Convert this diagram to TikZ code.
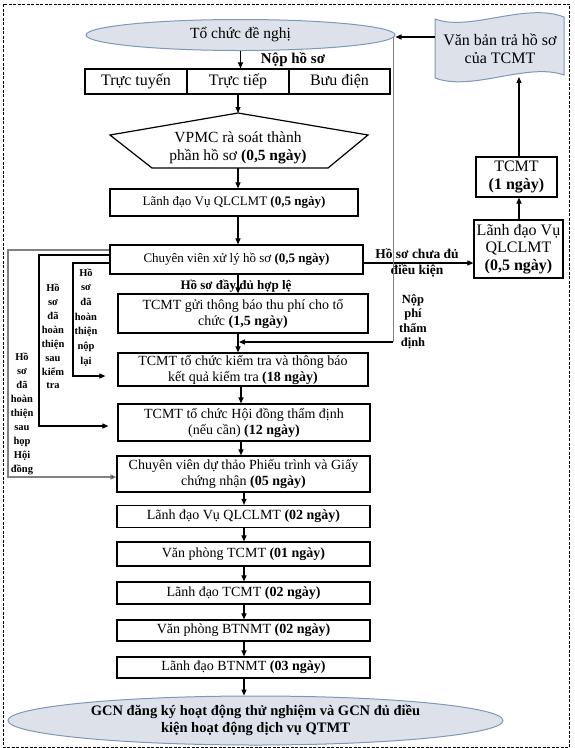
\documentclass[tikz,border=0pt]{standalone}
\usepackage{fontspec}
\setmainfont{Liberation Serif}
\usetikzlibrary{arrows.meta,shapes.geometric}
\definecolor{ellfill}{HTML}{DDE2EA}
\definecolor{elledge}{HTML}{7D98B8}
\begin{document}
\begin{tikzpicture}[x=1pt,y=-1pt,
  box/.style={draw, line width=1.2pt, inner sep=0pt, align=center},
  fa/.style={font=\fontsize{16}{17.5}\selectfont},
  fb/.style={font=\fontsize{14}{16}\selectfont},
  fc/.style={font=\fontsize{13}{15}\selectfont},
  lbl/.style={font=\bfseries\fontsize{12.5}{14.5}\selectfont, align=center, inner sep=0pt},
  lblb/.style={font=\bfseries\fontsize{13.5}{16}\selectfont, align=center, inner sep=0pt},
  loopl/.style={font=\bfseries\fontsize{10.5}{14}\selectfont, align=center, inner sep=0pt},
  arr/.style={-{Triangle[length=6pt,width=5pt]}, line width=1.1pt},
  ln/.style={line width=1.2pt},
  gln/.style={line width=0.9pt, draw=gray},
  ell/.style={ellipse, draw=elledge, fill=ellfill, line width=1pt, inner sep=0pt, align=center},
]
\useasboundingbox (0,0) rectangle (575,748);
% frame
\draw[line width=1pt, dash pattern=on 3pt off 1.5pt] (3,4) rectangle (569.5,747);

% top ellipse
\node[ell, minimum width=309pt, minimum height=31pt, font=\fontsize{15.5}{18}\selectfont] (org) at (240.5,35) {Tổ chức đề nghị};

% document shape
\draw[draw=elledge, fill=ellfill, line width=1pt]
  (435,19) .. controls (470,32) and (525,2) .. (564,17)
  -- (564,75) .. controls (527,62) and (472,92) .. (435,78) -- cycle;
\node[align=center, font=\fontsize{16}{18}\selectfont] (doc) at (500,49) {Văn bản trả hồ sơ\\của TCMT};
\coordinate (docL) at (435,37);
\coordinate (docB) at (519,77);

% Nop ho so
\node[font=\bfseries\fontsize{15}{17}\selectfont, inner sep=0pt] (nop) at (293,60) {Nộp hồ sơ};

% table
\node[box, fa, minimum width=102pt, minimum height=25pt] (t1) at (136,81.5) {Trực tuyến};
\node[box, fa, minimum width=102pt, minimum height=25pt] (t2) at (238,81.5) {Trực tiếp};
\node[box, fa, minimum width=101pt, minimum height=25pt] (t3) at (339.5,81.5) {Bưu điện};

% pentagon
\coordinate (pA) at (238,113);
\coordinate (pR) at (368,135);
\coordinate (pBR) at (328,168);
\coordinate (pBL) at (152,168);
\coordinate (pL) at (110,135);
\coordinate (pB) at (238,168);
\draw[ln] (pA) -- (pR) -- (pBR) -- (pBL) -- (pL) -- cycle;
\node[align=center, font=\fontsize{15.5}{18.5}\selectfont] (pent) at (238,148) {VPMC rà soát thành\\phần hồ sơ \textbf{(0,5 ngày)}};

% main boxes
\node[box, fc, minimum width=248pt, minimum height=27pt] (ld1) at (234,202.5) {Lãnh đạo Vụ QLCLMT \textbf{(0,5 ngày)}};
\node[box, fc, minimum width=253pt, minimum height=29pt] (cv) at (236.5,259.5) {Chuyên viên xử lý hồ sơ \textbf{(0,5 ngày)}};
\node[font=\bfseries\fontsize{13}{15}\selectfont, inner sep=0pt] (hop) at (236,286) {Hồ sơ đầy đủ hợp lệ};
\node[box, fb, minimum width=250pt, minimum height=39pt] (tg) at (243,313.5) {TCMT gửi thông báo thu phí cho tổ\\chức \textbf{(1,5 ngày)}};
\node[box, fb, minimum width=250pt, minimum height=33pt] (kt) at (243,369.5) {TCMT tổ chức kiểm tra và thông báo\\kết quả kiểm tra \textbf{(18 ngày)}};
\node[box, fb, minimum width=252pt, minimum height=37pt] (hd) at (244,422.5) {TCMT tổ chức Hội đồng thẩm định\\(nếu cần) \textbf{(12 ngày)}};
\node[box, fb, minimum width=253pt, minimum height=36pt] (dt) at (243.5,474) {Chuyên viên dự thảo Phiếu trình và Giấy\\chứng nhận \textbf{(05 ngày)}};
\node[box, fb, minimum width=253pt, minimum height=22pt] (ld2) at (243.5,516.5) {Lãnh đạo Vụ QLCLMT \textbf{(02 ngày)}};
\node[box, fb, minimum width=253pt, minimum height=24pt] (vp1) at (243.5,554) {Văn phòng TCMT \textbf{(01 ngày)}};
\node[box, fb, minimum width=253pt, minimum height=22pt] (ld3) at (243.5,593) {Lãnh đạo TCMT \textbf{(02 ngày)}};
\node[box, fb, minimum width=253pt, minimum height=21pt] (vp2) at (243.5,630.5) {Văn phòng BTNMT \textbf{(02 ngày)}};
\node[box, fb, minimum width=253pt, minimum height=21pt] (ld4) at (243.5,667.5) {Lãnh đạo BTNMT \textbf{(03 ngày)}};

% bottom ellipse
\node[ell, minimum width=495pt, minimum height=49pt, font=\bfseries\fontsize{14.5}{16.5}\selectfont] (fin) at (255.5,720.5) {GCN đăng ký hoạt động thử nghiệm và GCN đủ điều\\kiện hoạt động dịch vụ QTMT};

% right side
\node[box, fa, minimum width=89pt, minimum height=58pt, font=\fontsize{16}{17.5}\selectfont] (rb) at (518.5,249) {Lãnh đạo Vụ\\QLCLMT\\\textbf{(0,5 ngày)}};
\node[box, fa, minimum width=81pt, minimum height=40pt] (tc) at (516.5,177) {TCMT\\\textbf{(1 ngày)}};
\node[lblb] (chua) at (417,263) {Hồ sơ chưa đủ\\điều kiện};
\node[lbl] (phi) at (413,322) {Nộp\\phí\\thẩm\\định};

% main column arrows
\coordinate (colB) at (241,0);
\coordinate (colC) at (244,0);
\draw[arr] (org.south) -- (org.south |- t2.north);
\draw[arr] (t2.south) -- (pA);
\draw[arr] (pB) -- (pB |- ld1.north);
\draw[arr] (pB |- ld1.south) -- (pB |- cv.north);
\draw[arr] (pB |- cv.south) -- (pB |- tg.north);
\draw[arr] (pB |- tg.south) -- (pB |- kt.north);
\draw[arr] (colB |- kt.south) -- (colB |- hd.north);
\draw[arr] (colB |- hd.south) -- (colB |- dt.north);
\draw[arr] (colC |- dt.south) -- (colC |- ld2.north);
\draw[arr] (colC |- ld2.south) -- (colC |- vp1.north);
\draw[arr] (colC |- vp1.south) -- (colC |- ld3.north);
\draw[arr] (colC |- ld3.south) -- (colC |- vp2.north);
\draw[arr] (colC |- vp2.south) -- (colC |- ld4.north);
\draw[arr] (colC |- ld4.south) -- (colC |- fin.north);

% right side arrows
\coordinate (cvE) at ([yshift=-3.5pt]cv.east);
\draw[arr] (cvE) -- (cvE -| rb.west);
\coordinate (rx) at (519,0);
\draw[arr] (rx |- rb.north) -- (rx |- tc.south);
\draw[arr] (rx |- tc.north) -- (docB);
\draw[arr] (docL) -- (docL -| org.east);

% fee loop
\coordinate (f1) at (393,37.4);
\coordinate (f2) at (393,342);
\draw[gln] (f1) -- (f2);
\draw[arr, shorten >=1pt] (f2) -- (f2 -| pB);

% left loops
\coordinate (o1) at (8,250);
\coordinate (o2) at (8,477);
\draw[arr, draw=gray, -{Triangle[length=6pt,width=5pt,fill=black]}] ([yshift=9.5pt]cv.west) -- (o1) -- (o2) -- (o2 -| dt.west);
\coordinate (m1) at (39,255);
\coordinate (m2) at (39,426);
\draw[arr, shorten >=9pt] ([yshift=4.5pt]cv.west) -- (m1) -- (m2) -- (m2 -| hd.west);
\coordinate (i1) at (73,263);
\coordinate (i2) at (73,376);
\draw[arr, shorten >=12pt] ([yshift=-3.5pt]cv.west) -- (i1) -- (i2) -- (i2 -| kt.west);

\node[loopl, font=\bfseries\fontsize{10.5}{14.7}\selectfont] (lin) at (86,317.5) {Hồ\\sơ\\đã\\hoàn\\thiện\\nộp\\lại};
\node[loopl, font=\bfseries\fontsize{10.5}{13.9}\selectfont] (lmid) at (53,336.5) {Hồ\\sơ\\đã\\hoàn\\thiện\\sau\\kiểm\\tra};
\node[loopl] (lout) at (22,414) {Hồ\\sơ\\đã\\hoàn\\thiện\\sau\\họp\\Hội\\đồng};
\end{tikzpicture}
\end{document}
